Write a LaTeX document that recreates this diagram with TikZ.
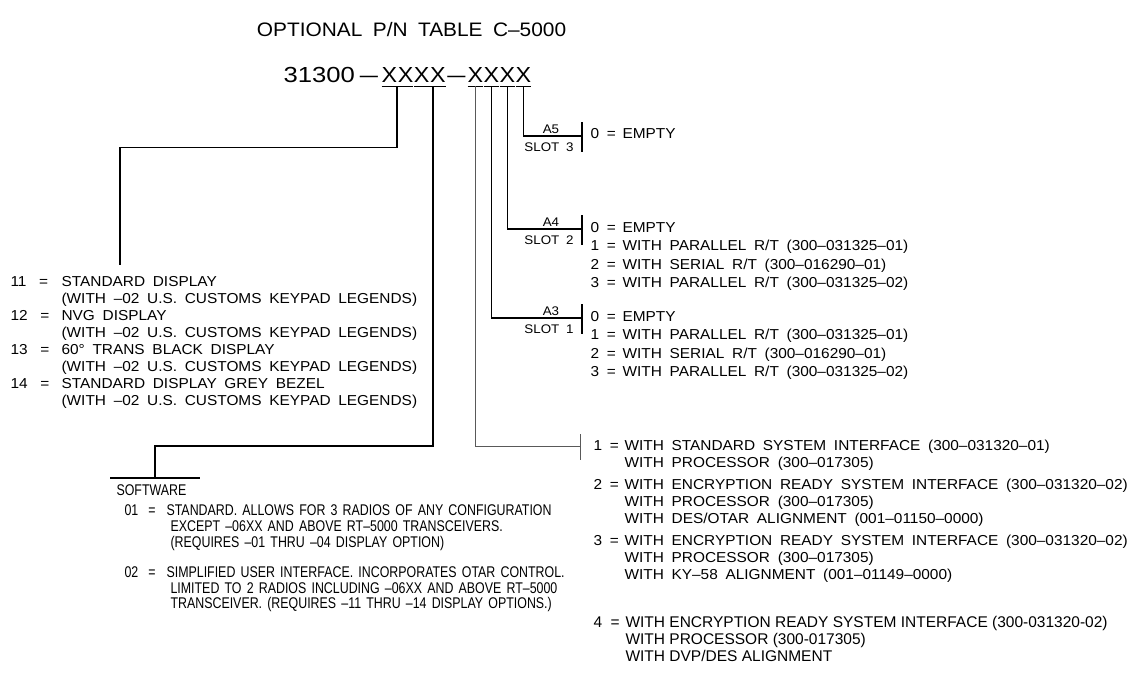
\documentclass[tikz,border=0pt]{standalone}
\usepackage{fontspec}
\usepackage{graphicx}
\setmainfont{Liberation Sans}[FakeStretch=1.07,WordSpace=1.8]
\newfontfamily\swfont{Liberation Sans}[FakeStretch=0.8,WordSpace=1.5]
\newfontfamily\arialtext{Liberation Sans}

\begin{document}
\begin{tikzpicture}[x=1pt,y=-1pt,line width=1.1pt,
  txt/.style={inner sep=0pt,anchor=base west,font=\fontsize{14.4}{17}\selectfont},
  swtxt/.style={inner sep=0pt,anchor=base west,font=\swfont\fontsize{15.5}{16}\selectfont},
  slottxt/.style={inner sep=0pt,anchor=base,font=\fontsize{12.5}{14}\selectfont},
  pnchar/.style={inner sep=0pt,anchor=base west,font=\fontsize{21.8}{24}\selectfont},
  arialtxt/.style={inner sep=0pt,anchor=base west,font=\arialtext\fontsize{15.5}{17}\selectfont},
  faint/.style={black!65,line width=0.8pt}]
\useasboundingbox (0,0) rectangle (1144,677);

% heading and part number
\node[inner sep=0pt,anchor=base,font=\fontsize{19.5}{22}\selectfont] (title) at (411.5,37) {OPTIONAL P/N TABLE C–5000};
\node[pnchar] (pn) at (283,82) {\scalebox{1.1}[1]{31300}};
\node[pnchar,anchor=base] (d1) at (369,82) {\scalebox{1.4}[1]{–}};
\node[pnchar,anchor=base] (d2) at (456.5,82) {\scalebox{1.4}[1]{–}};
\foreach \xx [count=\i] in {381,397.2,413.4,429.6}
  \node[pnchar] (xa\i) at (\xx,82) {X};
\foreach \xx [count=\i] in {467,483,499,515}
  \node[pnchar] (xb\i) at (\xx,82) {X};

% underlines under the digit groups
\draw ([xshift=0.5pt,yshift=-4.5pt]xa1.base west) -- ([xshift=-0.5pt,yshift=-4.5pt]xa2.base east);
\draw ([xshift=0.5pt,yshift=-4.5pt]xa3.base west) -- ([xshift=-0.5pt,yshift=-4.5pt]xa4.base east);
\foreach \i in {1,...,4}
  \draw ([xshift=0.5pt,yshift=-4.5pt]xb\i.base west) -- ([xshift=-0.5pt,yshift=-4.5pt]xb\i.base east);

% tick points and leader ends
\coordinate (t1) at (397,86.5);
\coordinate (t2) at (433,86.5);
\foreach \i in {1,...,4}
  \coordinate (tb\i) at ([yshift=-4.5pt]xb\i.base);
\coordinate (a5) at (582,136);
\coordinate (a4) at (582,229);
\coordinate (a3) at (582,318);
\coordinate (ifc) at (580,446);
\coordinate (swl) at (110,478);
\coordinate (swr) at (200,478);
\coordinate (swmid) at (155,478);
\coordinate (dispend) at (120,265);

% leaders
\draw (tb4) |- (a5);
\draw (tb3) |- (a4);
\draw (tb2) |- (a3);
\draw[faint] (tb1) |- (ifc);
\draw (t2) -- (t2 |- ifc) -| (swmid);
\draw (t1) -- ++(0,61) -| (dispend);
\draw (swl) -- (swr);
\foreach \s in {a5,a4,a3}
  \draw ([yshift=14pt]\s) -- ([yshift=-16pt]\s);
\draw[faint] ([yshift=12pt]ifc) -- ([yshift=-14pt]ifc);

% slot labels
\foreach \s/\n/\yy in {5/3/136, 4/2/229, 3/1/318} {
  \node[slottxt] (lbla\s) at (551,\yy-3) {A\s};
  \node[slottxt,anchor=base east] (slot\n) at (574,\yy+15) {SLOT \n};
}

% slot options
\node[txt] (key50) at (590,138) {0 =};
\node[txt] (row50) at (622,138) {EMPTY};
\foreach \s/\yy in {4/232, 3/321}
  \foreach \v [count=\i from 0] in {EMPTY, WITH PARALLEL R/T (300–031325–01), WITH SERIAL R/T (300–016290–01), WITH PARALLEL R/T (300–031325–02)} {
    \node[txt] (key\s\i) at (590,\yy+18.5*\i) {\i\ =};
    \node[txt] (row\s\i) at (622,\yy+18.5*\i) {\v};
  }

% interface options
\node[txt] (ik1) at (593,450) {1 =};
\node[txt] (i1a) at (624,450) {WITH STANDARD SYSTEM INTERFACE (300–031320–01)};
\node[txt] (i1b) at (624,467) {WITH PROCESSOR (300–017305)};
\node[txt] (ik2) at (593,489) {2 =};
\node[txt] (i2a) at (624,489) {WITH ENCRYPTION READY SYSTEM INTERFACE (300–031320–02)};
\node[txt] (i2b) at (624,506) {WITH PROCESSOR (300–017305)};
\node[txt] (i2c) at (624,523) {WITH DES/OTAR ALIGNMENT (001–01150–0000)};
\node[txt] (ik3) at (593,545) {3 =};
\node[txt] (i3a) at (624,545) {WITH ENCRYPTION READY SYSTEM INTERFACE (300–031320–02)};
\node[txt] (i3b) at (624,562) {WITH PROCESSOR (300–017305)};
\node[txt] (i3c) at (624,579) {WITH KY–58 ALIGNMENT (001–01149–0000)};
\node[arialtxt] (ik4) at (593,627) {4};
\node[arialtxt] (ieq4) at (610,627) {=};
\node[arialtxt] (i4a) at (625,627) {WITH ENCRYPTION READY SYSTEM INTERFACE (300-031320-02)};
\node[arialtxt] (i4b) at (625,644) {WITH PROCESSOR (300-017305)};
\node[arialtxt] (i4c) at (625,661) {WITH DVP/DES ALIGNMENT};

% display options
\foreach \v/\n [count=\i] in {STANDARD DISPLAY/11, NVG DISPLAY/12, 60° TRANS BLACK DISPLAY/13, STANDARD DISPLAY GREY BEZEL/14} {
  \node[txt] (dk\i) at (10,252+34*\i) {\n\hspace{5pt} =};
  \node[txt] (dn\i) at (61,252+34*\i) {\v};
  \node[txt] (dl\i) at (61,269+34*\i) {(WITH –02 U.S. CUSTOMS KEYPAD LEGENDS)};
}

% software options
\node[swtxt] (sw) at (116,495) {SOFTWARE};
\node[swtxt] (swk1) at (124,515) {01\hspace{5pt} =};
\node[swtxt] (sw1a) at (166,515) {STANDARD. ALLOWS FOR 3 RADIOS OF ANY CONFIGURATION};
\node[swtxt] (sw1b) at (170,531) {EXCEPT –06XX AND ABOVE RT–5000 TRANSCEIVERS.};
\node[swtxt] (sw1c) at (170,547) {(REQUIRES –01 THRU –04 DISPLAY OPTION)};
\node[swtxt] (swk2) at (124,577) {02\hspace{5pt} =};
\node[swtxt] (sw2a) at (166,577) {SIMPLIFIED USER INTERFACE. INCORPORATES OTAR CONTROL.};
\node[swtxt] (sw2b) at (170,593) {LIMITED TO 2 RADIOS INCLUDING –06XX AND ABOVE RT–5000};
\node[swtxt] (sw2c) at (170,608) {TRANSCEIVER. (REQUIRES –11 THRU –14 DISPLAY OPTIONS.)};
\end{tikzpicture}
\end{document}
